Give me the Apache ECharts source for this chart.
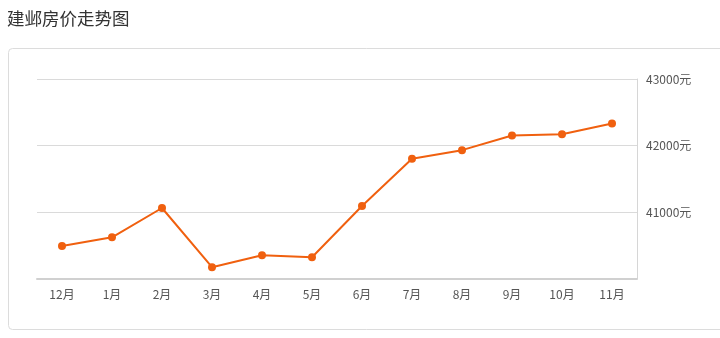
<!DOCTYPE html>
<html><head><meta charset="utf-8">
<script src="https://cdn.jsdelivr.net/npm/echarts@6/dist/echarts.min.js"></script>
<style>html,body{margin:0;padding:0;background:#fff;}#c{width:720px;height:338px;}</style>
</head><body><div id="c"></div>
<script>
const categories = ['12月','1月','2月','3月','4月','5月','6月','7月','8月','9月','10月','11月'];
const prices = [40490, 40620, 41060, 40170, 40350, 40320, 41090, 41800, 41930, 42150, 42170, 42330];
const yMin = 40000, yMax = 43000, yStep = 1000;
const unit = '元';
const chartTitle = '建邺房价走势图';

const font = '"Noto Sans CJK SC", "Microsoft YaHei", sans-serif';
const chart = echarts.init(document.getElementById('c'), null, {renderer: 'canvas'});
chart.setOption({
  animation: false,
  backgroundColor: '#fff',
  title: {
    text: chartTitle, left: 2, top: 5,
    textStyle: {fontFamily: font, fontSize: 17.5, fontWeight: 'normal', color: '#333'}
  },
  graphic: [{
    type: 'rect', left: 8, top: 48, z: -1,
    shape: {width: 740, height: 281, r: 4},
    style: {fill: '#fff', stroke: '#dcdcdc', lineWidth: 1}
  }],
  grid: {left: 37, right: 83, top: 79, bottom: 59.5},
  xAxis: {
    type: 'category', data: categories, boundaryGap: true,
    axisLine: {lineStyle: {color: '#d0d0d0', width: 2}},
    axisTick: {alignWithLabel: true, length: 4, lineStyle: {color: '#ccc'}},
    axisLabel: {fontFamily: font, fontSize: 12, color: '#555', margin: 10}
  },
  yAxis: {
    type: 'value', position: 'right', min: yMin, max: yMax, interval: yStep,
    axisLine: {show: true, lineStyle: {color: '#d6d6d6'}},
    axisTick: {show: false},
    splitLine: {lineStyle: {color: '#dadada'}},
    axisLabel: {
      fontFamily: font, fontSize: 12, color: '#555', margin: 9, showMinLabel: false,
      formatter: v => v + unit
    }
  },
  series: [{
    type: 'line', data: prices,
    symbol: 'circle', symbolSize: 8,
    lineStyle: {color: '#f0600f', width: 2},
    itemStyle: {color: '#f0600f'}
  }]
});
</script></body></html>
